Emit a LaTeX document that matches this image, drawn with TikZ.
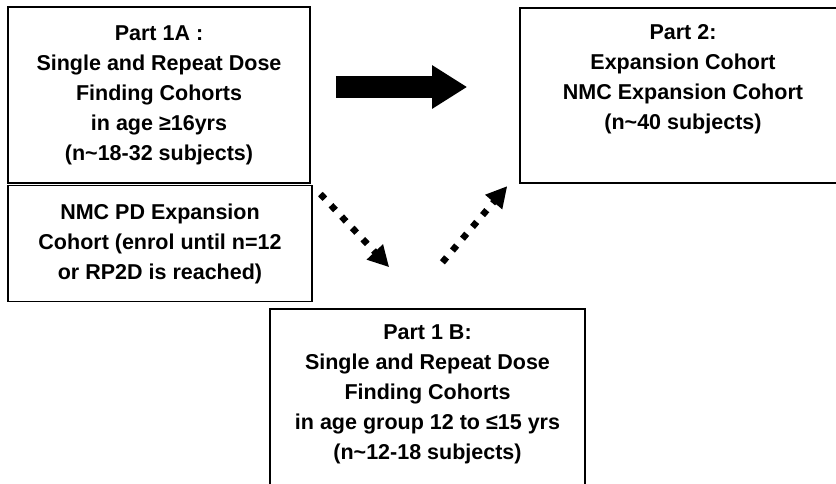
\documentclass[tikz,border=0pt]{standalone}
\usepackage{fontspec}
\setmainfont{Liberation Sans}
\usepackage{tikz}
\usetikzlibrary{arrows.meta}
\usetikzlibrary{positioning}

\begin{document}
\begin{tikzpicture}[x=1pt, y=-1pt,
    box/.style={draw, line width=1.6pt, inner sep=0pt},
    txt/.style={align=center, inner sep=0pt, font=\bfseries\fontsize{21.5}{30}\selectfont},
    fatarrow/.style={line width=22pt, -{Triangle[length=35pt, width=41pt]}},
    dotarrow/.style={line width=6.5pt, dash pattern=on 6.5pt off 9pt, -{Triangle[length=21pt, width=21pt]}}]
  \useasboundingbox (0,0) rectangle (836,483);
  \clip (0,0) rectangle (836,483);
  % boxes
  \node[box, txt, minimum width=302pt, minimum height=176pt] (p1a) at (159,95) {Part 1A :\\ Single and Repeat Dose\\ Finding Cohorts\\ in age \char"2265 16yrs\\ (n\textasciitilde 18-32 subjects)};
  \node[box, txt, minimum width=304pt, minimum height=116pt, below=1pt of p1a.south west, anchor=north west] (pd) {NMC PD Expansion\\ Cohort (enrol until n=12\\ or RP2D is reached)};
  \node[box, minimum width=326pt, minimum height=175pt] (p2) at (683,95.5) {};
  \node[txt, below=17pt of p2.north] (p2t) {Part 2:\\ Expansion Cohort\\ NMC Expansion Cohort\\ (n\textasciitilde 40 subjects)};
  \node[box, minimum width=315pt, minimum height=200pt, anchor=north] (p1b) at (427.5,308) {};
  \node[txt, below=17pt of p1b.north] (p1bt) {Part 1 B:\\ Single and Repeat Dose\\ Finding Cohorts\\ in age group 12 to \char"2264 15 yrs\\ (n\textasciitilde 12-18 subjects)};
  % arrows
  \draw[fatarrow] ([xshift=25pt, yshift=8pt]p1a.east) -- ([xshift=-52pt, yshift=8.5pt]p2.west);
  \draw[dotarrow, shorten <=14pt, shorten >=56pt] (p1a.south east) -- (p1b.north);
  \draw[dotarrow, shorten <=60pt, shorten >=3pt] ([xshift=-24pt]p1b.north) -- ([xshift=-10pt]p2.south west);
\end{tikzpicture}
\end{document}
